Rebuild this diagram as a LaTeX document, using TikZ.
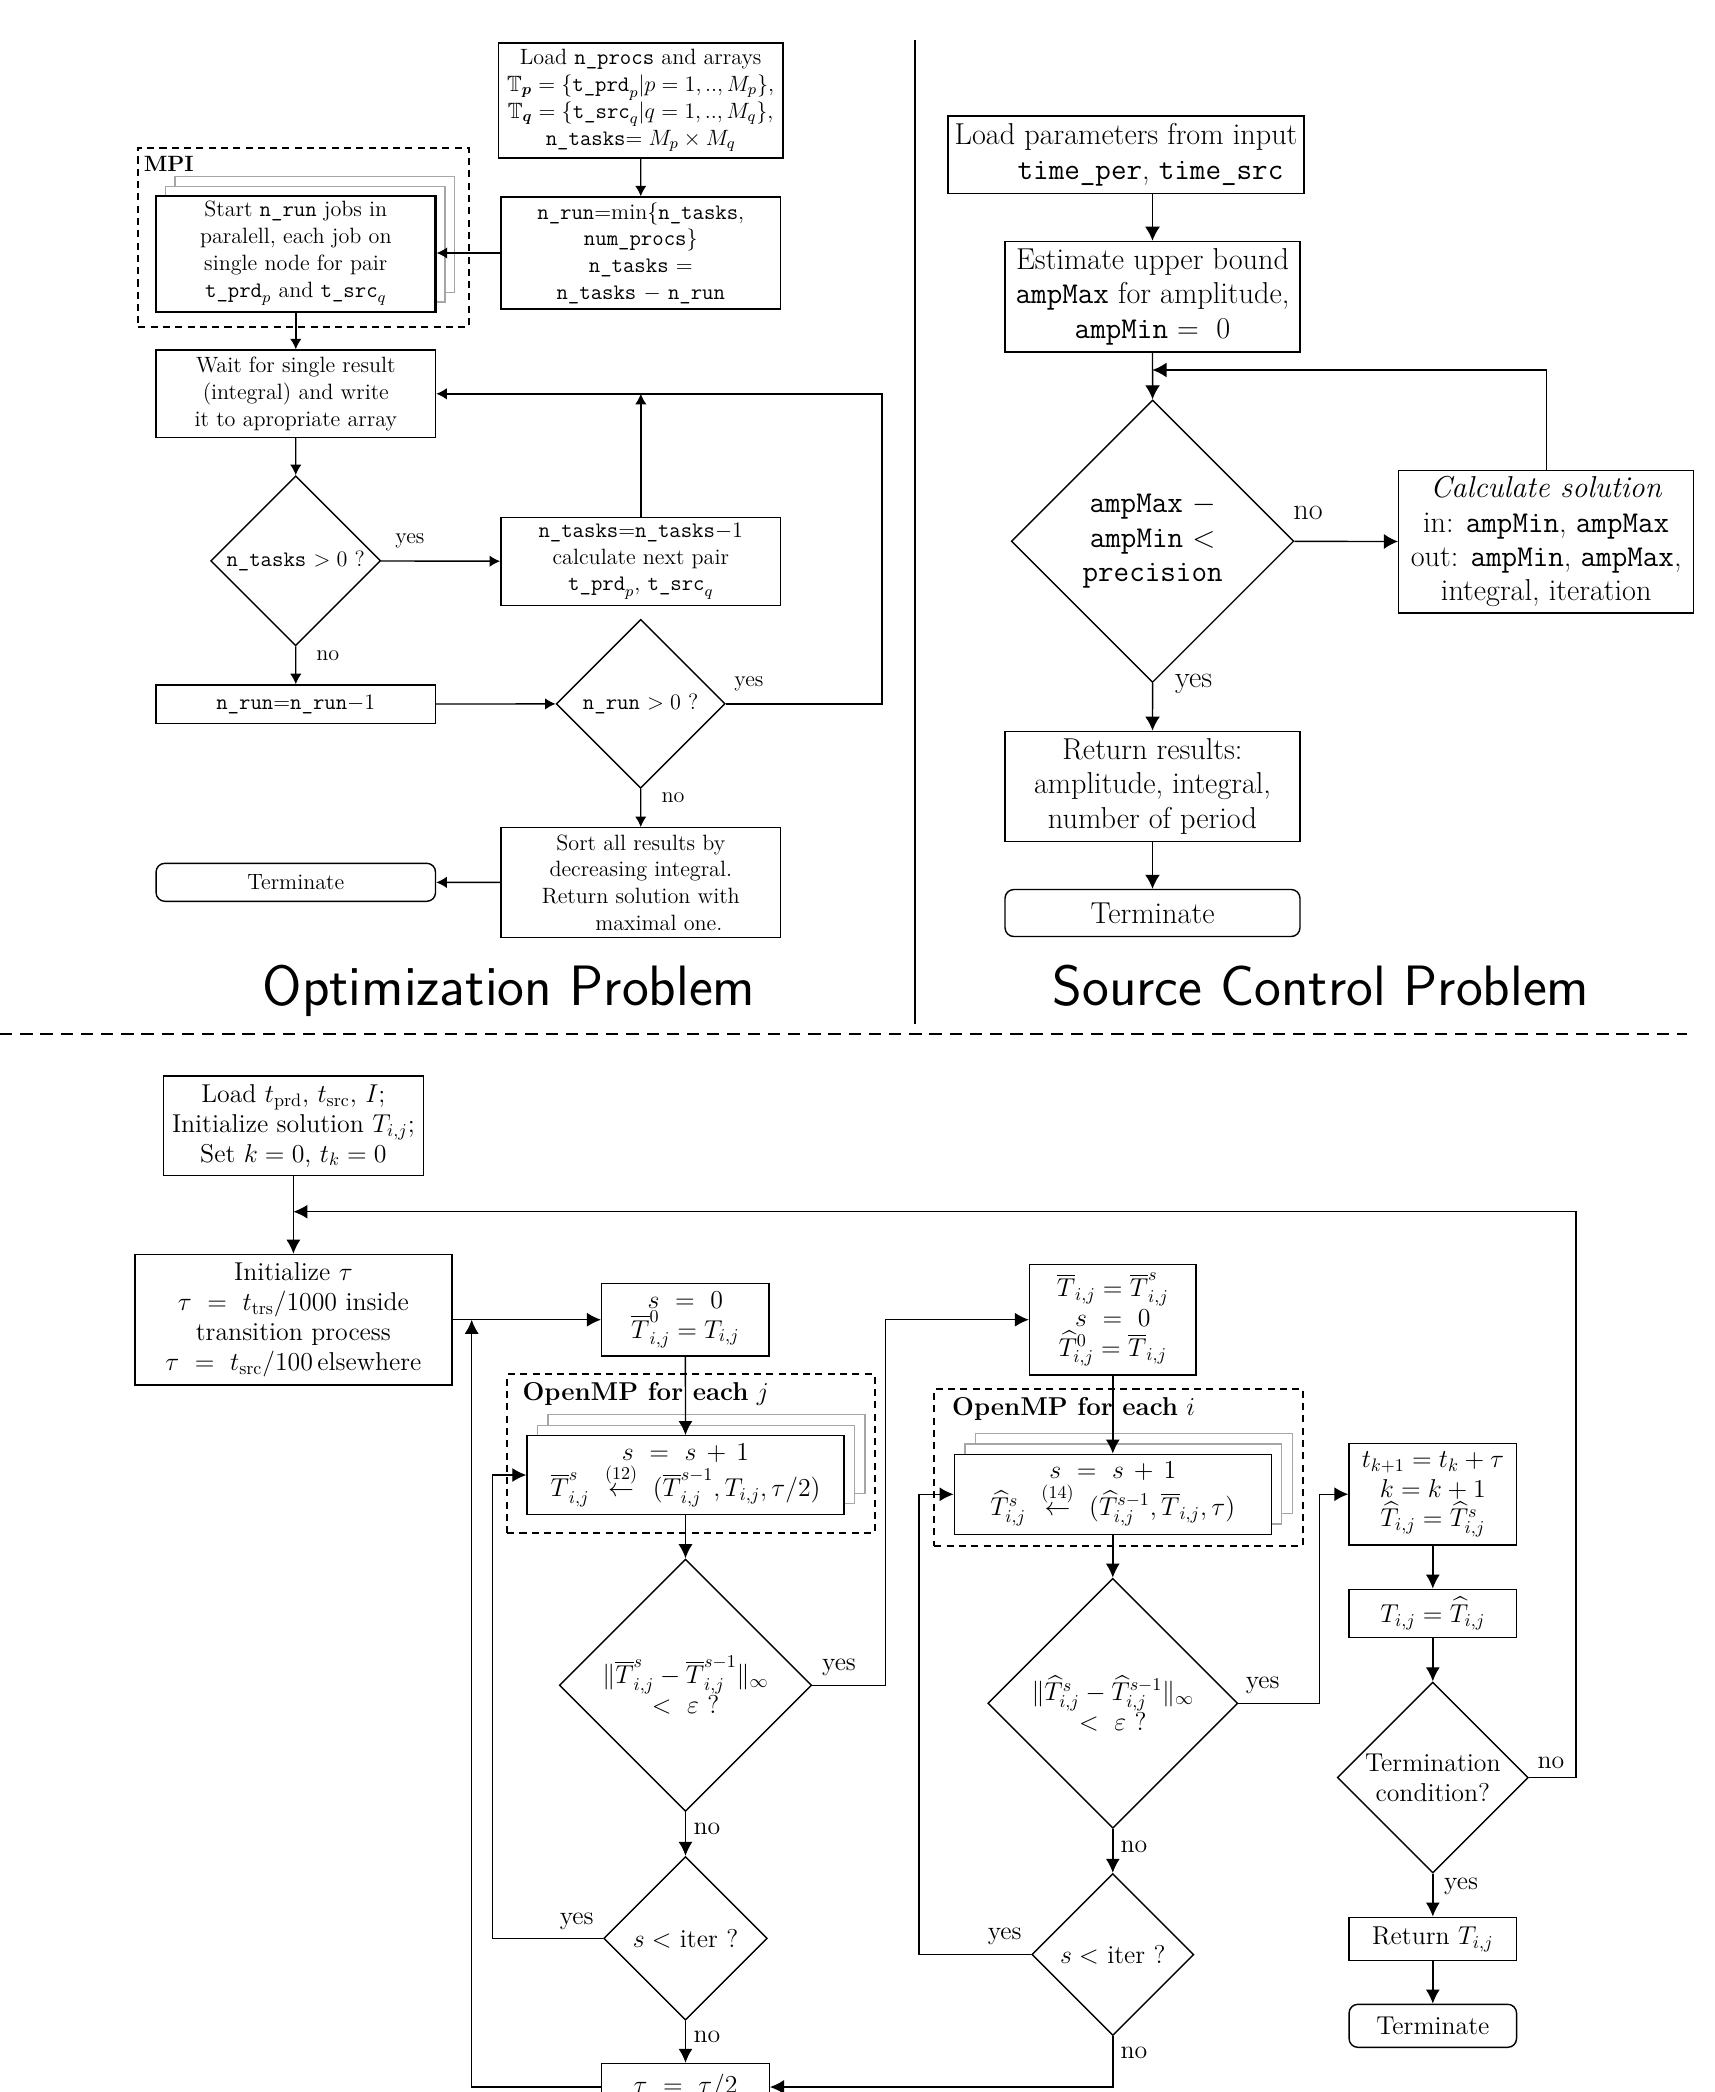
\documentclass[tikz,border=0pt]{standalone}
\usepackage{fix-cm}
\usepackage{amsmath,amssymb}
\usetikzlibrary{arrows.meta,shapes.geometric,shadows}
\begin{document}
\begin{tikzpicture}[x=0.02cm,y=-0.02cm,
    box/.style={draw,line width=0.8pt,align=center,inner sep=1pt},
    endbox/.style={box,rounded corners=5pt},
    cond/.style={draw,diamond,aspect=1,line width=0.8pt,align=center,inner sep=0pt},
    stack/.style={box,fill=white,double copy shadow={shadow xshift=#1,shadow yshift=#1,draw=gray!70,fill=white,line width=0.8pt}},
    dbox/.style={draw,line width=1.1pt,dash pattern=on 4pt off 3pt},
    fl/.style={font=\fontsize{12.6}{15.2}\selectfont},
    fr/.style={font=\fontsize{17.2}{19.5}\selectfont},
    fb/.style={font=\fontsize{14.7}{17}\selectfont},
    al/.style={-{Latex[length=6pt,width=6.5pt]},line width=0.8pt},
    ar/.style={-{Latex[length=8pt,width=8.5pt]},line width=0.8pt},
    ab/.style={-{Latex[length=8pt,width=8pt]},line width=0.8pt}]
\useasboundingbox (0,0) rectangle (1714,2092);
\clip (0,0) rectangle (1714,2092);

\node[box,fl,minimum width=5.7cm,minimum height=2.3cm] (load) at (640.7,100.5) {Load \texttt{n\_procs} and arrays\\$\mathbb{T}_{\boldsymbol{p}}=\{\texttt{t\_prd}_p|p=1,..,M_p\}$,\\$\mathbb{T}_{\boldsymbol{q}}=\{\texttt{t\_src}_q|q=1,..,M_q\}$,\\\texttt{n\_tasks}$=M_p\times M_q$};
\node[box,fl,minimum width=5.6cm,minimum height=2.24cm] (nrun) at (640.8,253) {\texttt{n\_run}$=$min$\{$\texttt{n\_tasks},\\\texttt{num\_procs}$\}$\\\texttt{n\_tasks} $=$\\\texttt{n\_tasks} $-$ \texttt{n\_run}};
\node[dbox,minimum width=6.61cm,minimum height=3.58cm] (mpi) at (303.6,237.2) {};
\node[fl,anchor=north west,inner sep=0pt] (mpilab) at ([shift={(6,9)}]mpi.north west) {\textbf{MPI}};
\node[stack=0.19cm,fl,line width=1.3pt,minimum width=5.59cm,minimum height=2.32cm] (start) at (295.8,253.7) {Start \texttt{n\_run} jobs in\\paralell, each job on\\single node for pair\\$\texttt{t\_prd}_p$ and $\texttt{t\_src}_q$};
\node[box,fl,minimum width=5.59cm,minimum height=1.75cm] (wait) at (295.8,393.8) {Wait for single result\\(integral) and write\\it to apropriate array};
\node[cond,fl,minimum width=3.4cm,minimum height=3.4cm] (dtask) at (295.7,560.8) {\texttt{n\_tasks} $>0$ ?};
\node[box,fl,minimum width=5.6cm,minimum height=1.77cm] (ntask) at (640.8,561.5) {\texttt{n\_tasks}$=$\texttt{n\_tasks}$-1$\\calculate next pair\\$\texttt{t\_prd}_p$, $\texttt{t\_src}_q$};
\node[box,fl,minimum width=5.59cm,minimum height=0.77cm] (nrun1) at (295.8,704.2) {\texttt{n\_run}$=$\texttt{n\_run}$-1$};
\node[cond,fl,minimum width=3.38cm,minimum height=3.38cm] (drun) at (640.7,703.8) {\texttt{n\_run} $>0$ ?};
\node[box,fl,minimum width=5.6cm,minimum height=2.19cm] (sort) at (640.8,882.5) {Sort all results by\\decreasing integral.\\Return solution with\\\hspace*{0.72cm}maximal one.};
\node[endbox,fl,minimum width=5.59cm,minimum height=0.76cm] (term) at (295.8,882.3) {Terminate};
\node[fl] (yes1) at (410,541) {yes};
\node[fl] (no1) at (327.8,656) {no};
\node[fl] (yes2) at (749,684) {yes};
\node[fl] (no2) at (673,798) {no};
\coordinate (back) at (882,393.8);
\draw[al] (load) -- (nrun);
\draw[al] (nrun.west) -- (nrun.west -| start.east);
\draw[al] (start) -- (wait);
\draw[al] (wait) -- (dtask);
\draw[al] (dtask) -- (ntask);
\draw[al] (dtask) -- (nrun1);
\draw[al] (nrun1) -- (drun);
\draw[al] (drun) -- (sort);
\draw[al] (sort) -- (term);
\draw[al] (drun.east) -| (back) -- (wait.east);
\draw[al] (ntask) -- (ntask |- back);
\node[font=\sffamily\fontsize{32.4}{38}\selectfont,anchor=base] (titleL) at (509,1005) {Optimization Problem};

\draw[line width=0.9pt] (915,40) -- (915,1024);

\node[box,fr,minimum width=7.12cm,minimum height=1.55cm] (loadp) at (1126,154.7) {Load parameters from input\\\hspace*{0.98cm}\texttt{time\_per}, \texttt{time\_src}};
\node[box,fr,minimum width=5.9cm,minimum height=2.21cm] (est) at (1152.5,296.7) {Estimate upper bound\\\texttt{ampMax} for amplitude,\\\texttt{ampMin} $=\ 0$};
\node[cond,fr,minimum width=5.65cm,minimum height=5.65cm] (dR) at (1152.6,541.2) {\texttt{ampMax} $-$\\\texttt{ampMin} $<$\\\texttt{precision}};
\node[box,fr,minimum width=5.9cm,minimum height=2.85cm] (calc) at (1546.2,541.7) {\textit{Calculate solution}\\in: \texttt{ampMin}, \texttt{ampMax}\\out: \texttt{ampMin}, \texttt{ampMax},\\integral, iteration};
\node[box,fr,minimum width=5.9cm,minimum height=2.2cm] (ret) at (1152.5,786.3) {Return results:\\amplitude, integral,\\number of period};
\node[endbox,fr,minimum width=5.9cm,minimum height=0.94cm] (termR) at (1152.5,913) {Terminate};
\node[fr] (noR) at (1308,513) {no};
\node[fr] (yesR) at (1193.7,684) {yes};
\coordinate (loopR) at (1152.5,370);
\draw[ar] (loadp.south -| est.north) -- (est);
\draw[ar] (est) -- (dR);
\draw[ar] (dR) -- (calc);
\draw[ar] (calc) |- (loopR);
\draw[ar] (dR) -- (ret);
\draw[ar] (ret) -- (termR);
\node[font=\sffamily\fontsize{32.4}{38}\selectfont,anchor=base] (titleR) at (1321,1005) {Source Control Problem};

\draw[line width=0.8pt,dash pattern=on 7pt off 4.5pt] (0,1034) -- (1687,1034);

\node[box,fb,minimum width=5.2cm,minimum height=1.99cm] (loadb) at (293.4,1125.7) {Load $t_{\mathrm{prd}}$, $t_{\mathrm{src}}$, $I$;\\Initialize solution $T_{i,j}$;\\Set $k=0$, $t_k=0$};
\node[box,fb,minimum width=6.34cm,minimum height=2.61cm] (init) at (293.4,1319.7) {Initialize $\tau$\\$\tau\ =\ t_{\mathrm{trs}}/1000$ inside\\transition process\\$\tau\ =\ t_{\mathrm{src}}/100$\,elsewhere};
\node[box,fb,minimum width=3.35cm,minimum height=1.45cm] (szero) at (685.4,1319.7) {$s\ =\ 0$\\$\overline{T}^{0}_{i,j}=T_{i,j}$};
\node[dbox,minimum width=7.35cm,minimum height=3.17cm] (ompj) at (690.9,1453.5) {};
\node[fb,anchor=west,inner sep=0pt] (ompjlab) at ([shift={(16,21)}]ompj.north west) {\textbf{OpenMP for each} $j$};
\node[stack=0.21cm,fb,minimum width=6.34cm,minimum height=1.57cm] (upd1) at (685.5,1475) {$s\ =\ s\,+\,1$\\$\overline{T}^{s}_{i,j}\ \overset{(12)}{\leftarrow}\ (\overline{T}^{s-1}_{i,j},T_{i,j},\tau/2)$};
\node[cond,fb,minimum width=5.05cm,minimum height=5.05cm] (dA) at (685.5,1685.2) {$\|\overline{T}^{s}_{i,j}-\overline{T}^{s-1}_{i,j}\|_\infty$\\$<\ \varepsilon$ ?};
\node[cond,fb,minimum width=3.27cm,minimum height=3.27cm] (iterA) at (685.5,1938.3) {$s<$ iter ?};
\node[box,fb,minimum width=3.35cm,minimum height=0.94cm] (halve) at (685.5,2087) {$\tau\ =\ \tau/2$};
\node[box,fb,minimum width=3.33cm,minimum height=2.21cm] (tbar) at (1112.8,1319.7) {$\overline{T}_{i,j}=\overline{T}^{s}_{i,j}$\\$s\ =\ 0$\\$\widehat{T}^{0}_{i,j}=\overline{T}_{i,j}$};
\node[dbox,minimum width=7.37cm,minimum height=3.14cm] (ompi) at (1118.6,1467.5) {};
\node[fb,anchor=west,inner sep=0pt] (ompilab) at ([shift={(18.4,21)}]ompi.north west) {\textbf{OpenMP for each} $i$};
\node[stack=0.21cm,fb,minimum width=6.34cm,minimum height=1.6cm] (upd2) at (1112.8,1494.3) {$s\ =\ s\,+\,1$\\$\widehat{T}^{s}_{i,j}\ \overset{(14)}{\leftarrow}\ (\widehat{T}^{s-1}_{i,j},\overline{T}_{i,j},\tau)$};
\node[cond,fb,minimum width=5cm,minimum height=5cm] (dB) at (1112.8,1703.3) {$\|\widehat{T}^{s}_{i,j}-\widehat{T}^{s-1}_{i,j}\|_\infty$\\$<\ \varepsilon$ ?};
\node[cond,fb,minimum width=3.24cm,minimum height=3.24cm] (iterB) at (1112.8,1954.5) {$s<$ iter ?};
\node[box,fb,minimum width=3.35cm,minimum height=2.03cm] (tk) at (1432.8,1494.2) {$t_{k+1}=t_k+\tau$\\$k=k+1$\\$\widehat{T}_{i,j}=\widehat{T}^{s}_{i,j}$};
\node[box,fb,minimum width=3.35cm,minimum height=0.96cm] (tset) at (1432.8,1613.3) {$T_{i,j}=\widehat{T}_{i,j}$};
\node[cond,fb,minimum width=3.82cm,minimum height=3.82cm] (dterm) at (1432.8,1777.5) {Termination\\condition?};
\node[box,fb,minimum width=3.35cm,minimum height=0.87cm] (retT) at (1432.8,1939) {Return $T_{i,j}$};
\node[endbox,fb,minimum width=3.35cm,minimum height=0.86cm] (termB) at (1432.8,2025.8) {Terminate};
\node[fb] (yesA) at (839,1667.7) {yes};
\node[fb] (noA) at (707,1829) {no};
\node[fb] (yesA2) at (576.7,1921) {yes};
\node[fb] (noA2) at (707,2036.6) {no};
\node[fb] (yesB) at (1262.7,1685) {yes};
\node[fb] (noB) at (1134,1846.7) {no};
\node[fb] (yesB2) at (1004.7,1936.7) {yes};
\node[fb] (noB2) at (1134,2053.3) {no};
\node[fb] (noT) at (1551,1763.3) {no};
\node[fb] (yesT) at (1461,1886.7) {yes};
\coordinate (loopB) at (293.4,1211.7);
\coordinate (loopA) at (471.7,1319.7);
\draw[ab] (loadb) -- (init);
\draw[ab] (dterm.east) -- ++(47,0) |- (loopB);
\draw[ab] (init) -- (szero);
\draw[ab] (halve.west) -| (loopA);
\draw[ab] (szero) -- (upd1);
\draw[ab] (upd1) -- (dA);
\draw[ab] (dA) -- (iterA);
\draw[ab] (iterA) -- (halve);
\draw[ab] (iterA.west) -- ++(-110.6,0) |- (upd1.west);
\draw[ab] (dA.east) -- ++(73.2,0) |- (tbar.west);
\draw[ab] (tbar) -- (upd2);
\draw[ab] (upd2) -- (dB);
\draw[ab] (dB) -- (iterB);
\draw[ab] (iterB.west) -- ++(-112,0) |- (upd2.west);
\draw[ab] (iterB.south) |- (halve.east);
\draw[ab] (dB.east) -- ++(81.2,0) |- (tk.west);
\draw[ab] (tk) -- (tset);
\draw[ab] (tset) -- (dterm);
\draw[ab] (dterm) -- (retT);
\draw[ab] (retT) -- (termB);
\end{tikzpicture}
\end{document}
